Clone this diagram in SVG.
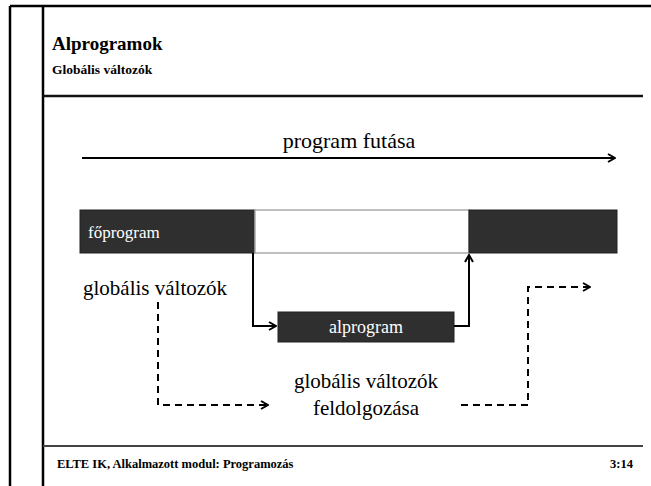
<svg xmlns="http://www.w3.org/2000/svg" width="651" height="486" viewBox="0 0 651 486">
<style>
.frame{stroke:#000;stroke-width:2.5;fill:none}
.hdr{stroke:#111;stroke-width:2.5}
.ftr{stroke:#444;stroke-width:2}
.t{fill:#000}
.b{font-weight:bold}
.w{fill:#fff}
.dark{fill:#2f2f2f;stroke:#222;stroke-width:1}
.conn{stroke:#000;stroke-width:2;fill:none}
.dash{stroke:#000;stroke-width:2;fill:none;stroke-dasharray:7,5}
</style>
<defs>
<marker id="ah" viewBox="0 0 10 10" refX="9" refY="5" markerWidth="10" markerHeight="10" markerUnits="userSpaceOnUse" orient="auto">
<path d="M2,1 L9,5 L2,9" fill="none" stroke="#000" stroke-width="2"/>
</marker>
</defs>
<g id="frame">
<line class="frame" x1="10" y1="6" x2="651" y2="6"/>
<line class="frame" x1="10" y1="6" x2="10" y2="486"/>
<line class="frame" x1="43" y1="6" x2="43" y2="486"/>
<line class="hdr" x1="43" y1="96" x2="643" y2="96"/>
<line class="ftr" x1="43" y1="446" x2="643" y2="446"/>
</g>
<g font-family="'Liberation Serif', serif">
<g id="header">
<text class="t b" x="52" y="50" font-size="19">Alprogramok</text>
<text class="t b" x="52" y="74" font-size="13.5">Globális változók</text>
</g>
<g id="footer">
<text class="t b" x="57" y="468" font-size="12.5">ELTE IK, Alkalmazott modul: Programozás</text>
<text class="t b" x="633" y="468" font-size="12.5" text-anchor="end">3:14</text>
</g>
<g id="timeline">
<text class="t" x="349" y="148" font-size="22" text-anchor="middle">program futása</text>
</g>
<g id="foprogram">
<rect class="dark" x="80" y="210" width="175" height="43"/>
<rect x="255" y="210" width="214" height="43" fill="#fff" stroke="#aaa" stroke-width="1.5"/>
<rect class="dark" x="469" y="210" width="148" height="43"/>
<text class="t w" x="88" y="238" font-size="17">főprogram</text>
</g>
<g id="alprogram">
<rect class="dark" x="278" y="312" width="176" height="30"/>
<text class="t w" x="366" y="333" font-size="18" text-anchor="middle">alprogram</text>
</g>
<g id="globalis">
<text class="t" x="83" y="295" font-size="21">globális változók</text>
</g>
<g id="feldolgozas">
<text class="t" x="366" y="388" font-size="21" text-anchor="middle">globális változók</text>
<text class="t" x="366" y="415" font-size="21" text-anchor="middle">feldolgozása</text>
</g>
</g>
<g id="connectors">
<line class="conn" x1="82" y1="158" x2="615" y2="158" marker-end="url(#ah)"/>
<polyline class="conn" points="253,253 253,326 276,326" marker-end="url(#ah)"/>
<polyline class="conn" points="454,326 469,326 469,255" marker-end="url(#ah)"/>
<polyline class="dash" points="158,302 158,405 268,405" marker-end="url(#ah)"/>
<polyline class="dash" points="461,405 528,405 528,287 590,287" marker-end="url(#ah)"/>
</g>
</svg>
